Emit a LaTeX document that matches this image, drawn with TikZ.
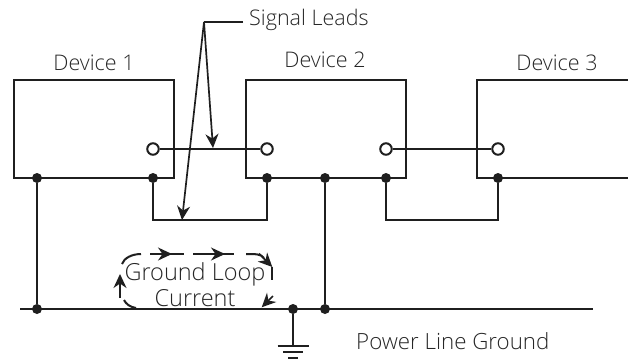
\documentclass[tikz,border=0pt]{standalone}
\usepackage{fontspec}
\setmainfont{Open Sans Light}
\usetikzlibrary{arrows.meta}
\tikzset{
  wire/.style={line width=2pt,draw=black!88},
  lead/.style={line width=1.7pt,draw=black!88},
  dot/.style={circle,fill=black!88,inner sep=0pt,minimum size=10pt},
  port/.style={circle,draw=black!88,fill=white,line width=2pt,inner sep=0pt,minimum size=11.5pt},
  txt/.style={font=\fontsize{21.5}{23}\selectfont,text=black!85,inner sep=0pt},
  pgtxt/.style={font=\fontsize{22.3}{24}\selectfont,text=black!85,inner sep=0pt},
  bigtxt/.style={font=\fontsize{23.5}{25}\selectfont,text=black!85,inner sep=0pt},
  tip/.style={-{Stealth[length=14pt,width=13pt,inset=4.5pt]}}
}
\begin{document}
\begin{tikzpicture}[x=1pt,y=-1pt]
\useasboundingbox (0,0) rectangle (628,360);
\fill[white] (0,0) rectangle (628,360);
% devices
\coordinate (d1a) at (14,80);\coordinate (d1b) at (174,178);
\draw[wire] (d1a) rectangle (d1b);
\draw[wire] (246,80) rectangle (406,178);
\draw[wire] (628,80) -- (477,80) -- (477,178) -- (628,178);
\node[txt] (l1) at (94,63) {Device 1};
\node[txt] (l2) at (325,60) {Device 2};
\node[txt] (l3) at (557,63) {Device 3};
\node[txt,anchor=west] (sl) at (249,20) {Signal Leads};
\node[pgtxt,anchor=west] (pg) at (356,341) {Power Line Ground};
% power line
\coordinate (pl) at (20,309);\coordinate (pr) at (593,309);
\draw[wire] (pl) -- (pr);
% nodes
\node[dot] (a1) at (37,178) {};
\node[dot] (a2) at (153,178) {};
\node[dot] (b1) at (267,178) {};
\node[dot] (b2) at (325,178) {};
\node[dot] (c1) at (386,178) {};
\node[dot] (c2) at (498,178) {};
\node[dot] (g1) at (37,309) {};
\node[dot] (g2) at (293,309) {};
\node[dot] (g3) at (325,309) {};
\draw[wire] (a1) -- (g1);
\draw[wire] (b2) -- (g3);
\draw[wire] (a2) -- (153,220) -- (267,220) -- (b1);
\draw[wire] (c1) -- (386,220) -- (498,220) -- (c2);
\node[port] (p1) at (153,149) {};
\node[port] (p2) at (267,149) {};
\node[port] (p3) at (386,149) {};
\node[port] (p4) at (498,149) {};
\draw[wire] (p1) -- (p2);
\draw[wire] (p3) -- (p4);
% leader
\coordinate (k) at (204,22);
\coordinate (ks) at (243,22);
\coordinate (t1) at (213,148);
\coordinate (t2) at (182,220);
\draw[lead] (ks) -- (k);
\draw[lead,tip] (k) -- (t1);
\draw[lead,tip] (k) -- (t2);
% ground
\coordinate (g0) at (293,346);
\draw[wire] (g2) -- (g0);
\draw[wire] (g0) ++(-15.5,0) -- ++(31,0);
\draw[wire] (g0) ++(-10,6) -- ++(20,0);
\draw[wire] (g0) ++(-5,12) -- ++(10,0);
% loop
\node[bigtxt] (gl) at (195,274) {Ground Loop};
\node[bigtxt] (cu) at (195,298) {Current};
% top-left arc
\draw[wire] (122,264) .. controls (124,258) and (132,254) .. (141,254);
% left arrow
\draw[lead,tip] (120,298) -- (120,274);
\draw[wire] (124,300) .. controls (126,304) and (130,307) .. (136,308);
% top
\draw[wire] (150,254) -- (184,254);
\draw[lead,tip] (150,254) -- (172,254);
\draw[wire] (193,254) -- (234,254);
\draw[lead,tip] (193,254) -- (225,254);
% right top
\draw[wire] (246,254) .. controls (256,254) and (261,254) .. (264,258);
\draw[wire] (272,267) -- (272,280);
\draw[lead,tip] (259,253.5) -- (272.3,267);
% right bottom
\draw[lead,tip] (273,296) -- (261.7,307.3);
\end{tikzpicture}
\end{document}
